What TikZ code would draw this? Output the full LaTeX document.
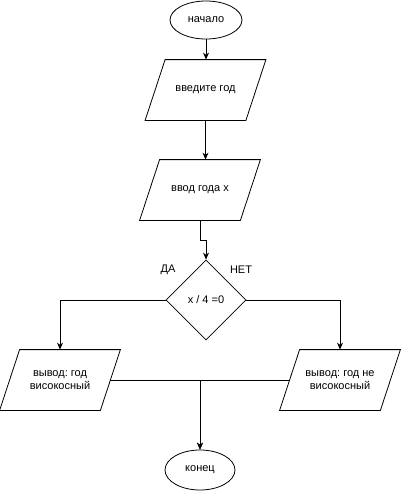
\documentclass[tikz,border=0pt]{standalone}
\usepackage{fontspec}
\setmainfont{Liberation Sans}
\frenchspacing
\usepackage{tikz}
\usetikzlibrary{
  arrows.meta, positioning, calc, shapes.geometric
}
\definecolor{flowline}{HTML}{000000}
% slanted outline round a plain io node
\newcommand{\ioslant}[1]{%
  \draw ($(#1.north west)+(10,0)$) -- ($(#1.north east)+(10,0)$)
    -- ($(#1.south east)+(-10,0)$) -- ($(#1.south west)+(-10,0)$) -- cycle;}

\begin{document}
\begin{tikzpicture}[x=1pt, y=-1pt, line width=0.8pt,
    every node/.style={font=\fontsize{11}{13}\selectfont, align=center},
    term/.style={draw, ellipse, minimum width=72pt, minimum height=38pt, inner sep=0pt},
    iobox/.style={rectangle, minimum width=100pt, minimum height=60pt, inner sep=0pt},
    test/.style={draw, diamond, minimum width=80pt, minimum height=80pt, inner sep=0pt},
    flow/.style={-{Stealth[length=7pt, width=6pt]}, flowline}]
  \useasboundingbox (0,0) rectangle (401,491);

  % Start and input
  \node[term] (start) at (206,20) {начало};
  \node[iobox] (ask) at (205.5,90) {введите год};
  \node[iobox] (read) at (200,190) {ввод года х};
  \ioslant{ask}
  \ioslant{read}

  % Test
  \node[test] (check) at (206,300) {х / 4 =0};
  \node (yes) at (168,270) {ДА};
  \node (no) at (241,270) {НЕТ};

  % Outputs
  \node[iobox] (leap) at (60,380) {вывод: год\\високосный};
  \node[iobox] (noleap) at (340,380) {вывод: год не\\високосный};
  \ioslant{leap}
  \ioslant{noleap}
  \node[term, minimum width=70pt, minimum height=40pt] (stop) at (200,470) {конец};

  % Connectors
  \draw[flow] (start.south) -- (start.south |- ask.north);
  \draw[flow] (ask.south) -- (ask.south |- read.north);
  \draw[flow] (read.south) -- ++(0,20) -| (check.north);
  \draw[flow] (check.west) -| (leap.north);
  \draw[flow] (check.east) -| (noleap.north);
  \draw[flow] (leap.east) -| (stop.north);
  \draw[flow] (noleap.west) -| (stop.north);
\end{tikzpicture}
\end{document}
